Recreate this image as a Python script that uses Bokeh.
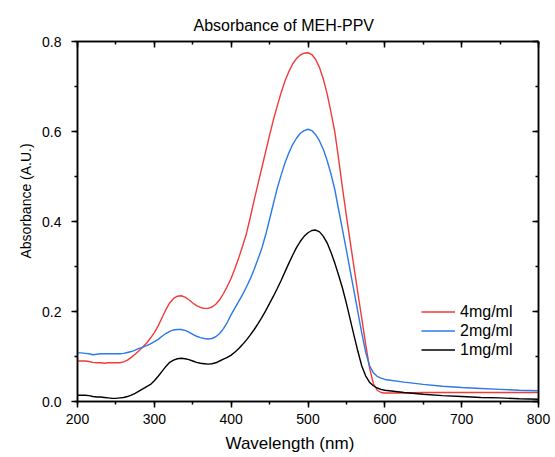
from bokeh.plotting import figure
from bokeh.models import (SingleIntervalTicker, Legend, LegendItem, LinearAxis,
                          Range1d, Title, PrintfTickFormatter)
from bokeh.embed import file_html
from bokeh.resources import INLINE

# ---------------- data ----------------
wavelength = [200, 205, 210, 215, 220, 225, 230, 235, 240, 245,
              250, 255, 260, 265, 270, 275, 280, 285, 290, 295,
              300, 305, 310, 315, 320, 325, 330, 335, 340, 345,
              350, 355, 360, 365, 370, 375, 380, 385, 390, 395,
              400, 405, 410, 415, 420, 425, 430, 435, 440, 445,
              450, 455, 460, 465, 470, 475, 480, 485, 490, 495,
              500, 505, 510, 515, 520, 525, 530, 535, 540, 545,
              550, 555, 560, 565, 570, 575, 580, 585, 590, 595,
              600, 625, 650, 675, 700, 725, 750, 775, 800]

abs_4mg = [0.090, 0.090, 0.090, 0.089, 0.087, 0.086, 0.086, 0.085, 0.086, 0.086,
           0.086, 0.086, 0.088, 0.092, 0.098, 0.105, 0.113, 0.121, 0.130, 0.141,
           0.153, 0.168, 0.186, 0.204, 0.219, 0.229, 0.234, 0.235, 0.232, 0.226,
           0.219, 0.213, 0.209, 0.207, 0.207, 0.210, 0.216, 0.226, 0.240, 0.256,
           0.274, 0.296, 0.320, 0.346, 0.374, 0.410, 0.448, 0.484, 0.520, 0.556,
           0.592, 0.626, 0.657, 0.686, 0.712, 0.733, 0.750, 0.762, 0.770, 0.774,
           0.775, 0.771, 0.760, 0.742, 0.716, 0.683, 0.642, 0.598, 0.537, 0.473,
           0.412, 0.354, 0.297, 0.240, 0.184, 0.128, 0.076, 0.040, 0.025, 0.020,
           0.019, 0.019, 0.020, 0.020, 0.020, 0.020, 0.020, 0.020, 0.020]

abs_2mg = [0.108, 0.108, 0.107, 0.106, 0.104, 0.105, 0.106, 0.106, 0.106, 0.106,
           0.106, 0.106, 0.107, 0.109, 0.111, 0.114, 0.118, 0.121, 0.124, 0.128,
           0.133, 0.138, 0.145, 0.151, 0.156, 0.159, 0.160, 0.160, 0.158, 0.154,
           0.149, 0.145, 0.142, 0.140, 0.139, 0.140, 0.144, 0.151, 0.162, 0.176,
           0.193, 0.208, 0.223, 0.238, 0.255, 0.273, 0.294, 0.317, 0.341, 0.371,
           0.405, 0.440, 0.474, 0.503, 0.530, 0.552, 0.571, 0.585, 0.596, 0.602,
           0.605, 0.602, 0.593, 0.579, 0.560, 0.535, 0.505, 0.470, 0.425, 0.381,
           0.336, 0.290, 0.244, 0.198, 0.152, 0.110, 0.080, 0.064, 0.056, 0.052,
           0.049, 0.043, 0.038, 0.034, 0.031, 0.029, 0.027, 0.025, 0.024]

abs_1mg = [0.014, 0.014, 0.014, 0.013, 0.011, 0.010, 0.010, 0.009, 0.008, 0.007,
           0.007, 0.008, 0.009, 0.011, 0.014, 0.018, 0.023, 0.028, 0.033, 0.038,
           0.046, 0.056, 0.067, 0.078, 0.087, 0.092, 0.095, 0.096, 0.095, 0.093,
           0.090, 0.087, 0.085, 0.084, 0.083, 0.084, 0.086, 0.090, 0.094, 0.098,
           0.103, 0.110, 0.118, 0.127, 0.137, 0.148, 0.160, 0.173, 0.187, 0.202,
           0.218, 0.234, 0.251, 0.269, 0.288, 0.307, 0.325, 0.342, 0.356, 0.367,
           0.375, 0.380, 0.381, 0.377, 0.367, 0.352, 0.331, 0.307, 0.280, 0.251,
           0.218, 0.182, 0.146, 0.111, 0.079, 0.057, 0.043, 0.035, 0.030, 0.027,
           0.025, 0.020, 0.016, 0.013, 0.011, 0.009, 0.008, 0.006, 0.005]

series_labels = ["4mg/ml", "2mg/ml", "1mg/ml"]
series_colors = ["#f23a3a", "#2a7ae8", "#000000"]

X_START, X_END = 200, 800
Y_START, Y_END = 0.0, 0.8

p = figure(width=555, height=457,
           x_range=Range1d(X_START, X_END), y_range=Range1d(Y_START, Y_END),
           output_backend="svg", toolbar_location=None,
           min_border_left=77, min_border_right=17,
           min_border_top=41, min_border_bottom=54,
           title="Absorbance of MEH-PPV")
p.title.text_font_size = "16px"
p.title.text_font_style = "normal"
p.title.text_color = "black"
p.title.align = "left"
p.title.offset = 116
p.title.standoff = 16

p.xgrid.visible = False
p.ygrid.visible = False
p.outline_line_color = "black"
p.outline_line_width = 1.5

def style(ax, outward=True):
    ax.axis_line_color = "black"
    ax.axis_line_width = 1.5
    ax.major_tick_line_color = "black"
    ax.minor_tick_line_color = "black"
    ax.major_tick_line_width = 1.5
    ax.minor_tick_line_width = 1.5
    if outward:
        ax.major_tick_out, ax.major_tick_in = 6, 0
        ax.minor_tick_out, ax.minor_tick_in = 3, 0
    else:
        ax.major_tick_out, ax.major_tick_in = 0, 6
        ax.minor_tick_out, ax.minor_tick_in = 0, 3
    ax.major_label_text_font_size = "14px"
    ax.major_label_text_color = "black"

xa = p.xaxis[0]
xa.ticker = SingleIntervalTicker(interval=100, num_minor_ticks=2)
style(xa)
xa.major_label_standoff = 6

ya = p.yaxis[0]
ya.ticker = SingleIntervalTicker(interval=0.2, num_minor_ticks=2)
ya.formatter = PrintfTickFormatter(format="%.1f")
style(ya)
ya.major_label_standoff = 10

# mirrored axes (top / right) with inward ticks and no visible labels
top = LinearAxis(ticker=SingleIntervalTicker(interval=100, num_minor_ticks=2))
style(top, outward=False)
top.major_label_standoff = 0
top.major_label_text_font_size = "8px"
top.major_label_text_color = None
p.add_layout(top, "above")

right = LinearAxis(ticker=SingleIntervalTicker(interval=0.2, num_minor_ticks=2))
style(right, outward=False)
right.major_label_standoff = 0
right.major_label_text_font_size = "8px"
right.major_label_text_color = None
p.add_layout(right, "right")

xlabel = Title(text="Wavelength (nm)", align="left", offset=148,
               text_font_size="17px", text_color="black",
               text_font_style="normal", standoff=10)
p.add_layout(xlabel, "below")

ylabel = Title(text="Absorbance (A.U.)", align="left", offset=143,
               text_font_size="14px", text_color="black",
               text_font_style="normal", standoff=12)
p.add_layout(ylabel, "left")

renderers = []
for ys, c in zip([abs_4mg, abs_2mg, abs_1mg], series_colors):
    r = p.line(wavelength, ys, line_color=c, line_width=1.4)
    renderers.append(r)

legend = Legend(items=[LegendItem(label=l, renderers=[r])
                       for l, r in zip(series_labels, renderers)],
                location=(344, 42), padding=0, margin=0, spacing=0,
                glyph_width=34, glyph_height=19, label_height=19,
                label_standoff=5, border_line_color=None,
                background_fill_alpha=0, label_text_color="black",
                label_text_font_size="16px")
p.add_layout(legend)

open("out.html", "w").write(file_html(p, INLINE))
